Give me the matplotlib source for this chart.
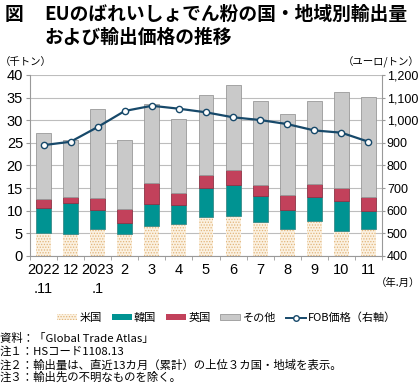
import matplotlib.pyplot as plt
import matplotlib.patches as mpatches
import matplotlib.lines as mlines
import numpy as np

plt.rcParams['font.family'] = ['Noto Sans CJK JP', 'DejaVu Sans']
plt.rcParams['hatch.linewidth'] = 0.6

months = ['2022\n.11', '12', '2023\n.1', '2', '3', '4', '5', '6', '7', '8', '9', '10', '11']
usa = [5.0, 4.8, 6.0, 4.9, 6.7, 7.0, 8.7, 8.8, 7.5, 6.0, 7.7, 5.5, 6.0]
korea = [5.7, 7.0, 4.1, 2.5, 4.9, 4.3, 6.3, 6.9, 5.8, 4.1, 5.3, 6.6, 3.9]
uk = [2.0, 1.2, 2.8, 2.9, 4.5, 2.6, 2.9, 3.2, 2.5, 3.3, 2.9, 3.0, 3.2]
total = [27.2, 25.6, 32.5, 25.6, 33.7, 30.3, 35.6, 37.8, 34.3, 31.3, 34.3, 36.2, 35.1]
fob = [890, 905, 970, 1041, 1064, 1051, 1035, 1013, 1001, 983, 955, 945, 905]

other = [t - a - b - c for t, a, b, c in zip(total, usa, korea, uk)]

c_us = '#fbf1e1'
c_us_dot = '#e2b57a'
c_kr = '#009392'
c_uk = '#c2415b'
c_ot = '#c9c9c9'
c_line = '#17496a'
num_font = ['Liberation Sans', 'DejaVu Sans']

fig = plt.figure(figsize=(4.2, 3.9), dpi=100)
ax = fig.add_axes([0.0714, 0.3436, 0.8381, 0.4641])

x = np.arange(len(months))
w = 0.55
b1 = np.array(usa)
b2 = b1 + np.array(korea)
b3 = b2 + np.array(uk)
ax.bar(x, usa, w, color=c_us, edgecolor=c_us_dot, hatch='......', linewidth=0, zorder=2)
ax.bar(x, korea, w, bottom=b1, color=c_kr, edgecolor='#3a8a88', linewidth=0.6, zorder=2)
ax.bar(x, uk, w, bottom=b2, color=c_uk, edgecolor='#8a3345', linewidth=0.6, zorder=2)
ax.bar(x, other, w, bottom=b3, color=c_ot, edgecolor='#999999', linewidth=0.6, zorder=2)

ax.set_xlim(-0.5, len(months) - 0.5)
ax.set_ylim(0, 40)
ax.set_yticks(range(0, 41, 5))
ax.grid(axis='y', color='#bdbdbd', linewidth=0.8, zorder=0)
ax.set_axisbelow(True)
ax.tick_params(axis='y', labelsize=10.5, length=3, color='#999999', pad=2)
ax.set_xticks(x)
ax.set_xticklabels(months, fontsize=10.5, family=num_font, linespacing=1.5)
ax.tick_params(axis='x', length=0, pad=5)
ax.set_xticks(np.arange(-0.5, len(months), 1), minor=True)
ax.tick_params(axis='x', which='minor', length=3, color='#999999')
for lab in ax.get_yticklabels():
    lab.set_family(num_font)
for s in ['top', 'right']:
    ax.spines[s].set_visible(False)
for s in ['left', 'bottom']:
    ax.spines[s].set_color('#999999')

ax2 = ax.twinx()
ax2.plot(x, fob, color=c_line, linewidth=1.6, marker='o', markersize=4.5,
         markerfacecolor='white', markeredgecolor=c_line, markeredgewidth=1, zorder=5)
ax2.set_ylim(400, 1200)
ax2.set_yticks(range(400, 1201, 100))
ax2.set_yticklabels([f'{v:,}' for v in range(400, 1201, 100)], family=num_font)
ax2.tick_params(axis='y', labelsize=9, length=2, color='#999999', pad=1.5)
for s in ['top', 'left', 'bottom']:
    ax2.spines[s].set_visible(False)
ax2.spines['right'].set_color('#999999')

fig.text(0.012, 0.962, '図', fontsize=13.5, fontweight='bold', va='center')
fig.text(0.105, 0.962, 'EUのばれいしょでん粉の国・地域別輸出量', fontsize=13.5, fontweight='bold', va='center')
fig.text(0.105, 0.903, 'および輸出価格の推移', fontsize=13.5, fontweight='bold', va='center')
fig.text(0.0, 0.84, '（千トン）', fontsize=7.5, va='center')
fig.text(1.0, 0.84, '（ユーロ/トン）', fontsize=7.5, va='center', ha='right')
fig.text(1.0, 0.274, '（年.月）', fontsize=7.5, va='center', ha='right')

handles = [
    mpatches.Patch(facecolor=c_us, edgecolor=c_us_dot, hatch='......', linewidth=0, label='米国'),
    mpatches.Patch(facecolor=c_kr, label='韓国'),
    mpatches.Patch(facecolor=c_uk, label='英国'),
    mpatches.Patch(facecolor=c_ot, edgecolor='#999999', linewidth=0.6, label='その他'),
    mlines.Line2D([], [], color=c_line, marker='o', markersize=4, markerfacecolor='white',
                  markeredgecolor=c_line, linewidth=1.4, label='FOB価格（右軸）'),
]
fig.legend(handles=handles, loc='center', bbox_to_anchor=(0.54, 0.185), ncol=5, frameon=False,
           fontsize=8, handlelength=1.8, handleheight=0.5, handletextpad=0.2, columnspacing=0.9)

notes = ['資料：「Global Trade Atlas」',
         '注１：HSコード1108.13',
         '注２：輸出量は、直近13カ月（累計）の上位３カ国・地域を表示。',
         '注３：輸出先の不明なものを除く。']
for i, n in enumerate(notes):
    fig.text(0.0, 0.131 - i * 0.033, n, fontsize=8.2, va='center')

fig.savefig('out.png', dpi=100)
